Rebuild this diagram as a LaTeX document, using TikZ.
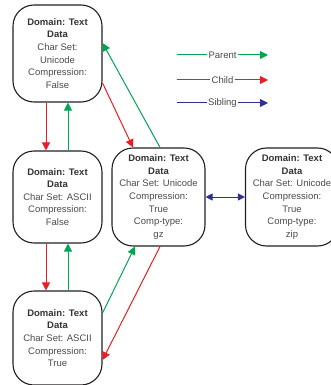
\documentclass[tikz,border=0pt]{standalone}
\usepackage{fontspec}
\setmainfont{Liberation Sans}
\usetikzlibrary{arrows.meta}
\definecolor{pgreen}{HTML}{00A651}
\definecolor{cred}{HTML}{ED1C24}
\definecolor{sblue}{HTML}{2E3192}
\definecolor{txt}{HTML}{4A4A4A}
\definecolor{boxline}{HTML}{231F20}
\tikzset{
  databox/.style={draw=boxline, line width=1.1pt, rounded corners=21pt, align=center,
    text=txt, font=\fontsize{9.5}{12.6}\selectfont, inner sep=0pt},
  parentarrow/.style={draw=pgreen, line width=1pt, -{Triangle[length=8pt,width=8pt]}},
  childarrow/.style={draw=cred, line width=1pt, -{Triangle[length=8pt,width=8pt]}},
  sibarrow/.style={draw=sblue, line width=1pt, {Triangle[length=7pt,width=7pt]}-{Triangle[length=7pt,width=7pt]}},
  legendlabel/.style={fill=white, text=txt, font=\fontsize{9.5}{11}\selectfont, inner sep=1.5pt},
}
\newcommand{\hd}{\textbf{\color[HTML]{333333}Domain: Text}\\\textbf{\color[HTML]{333333}Data}}
\begin{document}
\begin{tikzpicture}[x=1pt,y=-1pt]
\useasboundingbox (0,0) rectangle (331,385);
\clip (0,0) rectangle (331,385);
\node[databox, minimum width=89pt, minimum height=97pt] (n1) at (57.5,53.5)
  {\hd\\Char Set:\\Unicode\\Compression:\\False};
\node[databox, minimum width=89pt, minimum height=92pt] (n2) at (57.5,197)
  {\hd\\Char Set: ASCII\\Compression:\\False};
\node[databox, minimum width=89pt, minimum height=94pt] (n3) at (57.5,338)
  {\hd\\Char Set: ASCII\\Compression:\\True};
\node[databox, minimum width=93pt, minimum height=98pt] (m) at (158.5,197)
  {\hd\\Char Set: Unicode\\Compression:\\True\\Comp-type:\\gz};
\node[databox, minimum width=93pt, minimum height=98pt] (r) at (292,197)
  {\hd\\Char Set: Unicode\\Compression:\\True\\Comp-type:\\zip};

% vertical child/parent arrows
\draw[childarrow] ([xshift=-11.5pt]n1.south) -- ([xshift=-11.5pt]n2.north);
\draw[parentarrow] ([xshift=10.5pt]n2.north) -- ([xshift=10.5pt]n1.south);
\draw[childarrow] ([xshift=-11.5pt]n2.south) -- ([xshift=-11.5pt]n3.north);
\draw[parentarrow] ([xshift=10.5pt]n3.north) -- ([xshift=10.5pt]n2.south);

% diagonal arrows
\draw[childarrow] ([yshift=-29.5pt]n1.east) -- ([xshift=-25.5pt]m.north);
\draw[parentarrow] ([xshift=1.5pt]m.north) -- ([yshift=10.5pt]n1.east);
\draw[parentarrow] ([yshift=25pt]n3.east) -- ([xshift=-23.5pt]m.south);
\draw[childarrow] ([xshift=1.5pt]m.south) -- ([yshift=-22pt]n3.east);

% sibling
\draw[sibarrow] (m.east) -- (r.west);

% legend
\coordinate (pa) at (177,55); \coordinate (pb) at (268,55);
\coordinate (ca) at (177,80); \coordinate (cb) at (268,80);
\coordinate (sa) at (177,103); \coordinate (sb) at (268,103);
\draw[parentarrow] (pa) -- node[legendlabel] (lp) {Parent} (pb);
\draw[childarrow] (ca) -- node[legendlabel] (lc) {Child} (cb);
\draw[draw=sblue, line width=1pt, -{Triangle[length=8pt,width=8pt]}] (sa) -- node[legendlabel] (ls) {Sibling} (sb);
\end{tikzpicture}
\end{document}
